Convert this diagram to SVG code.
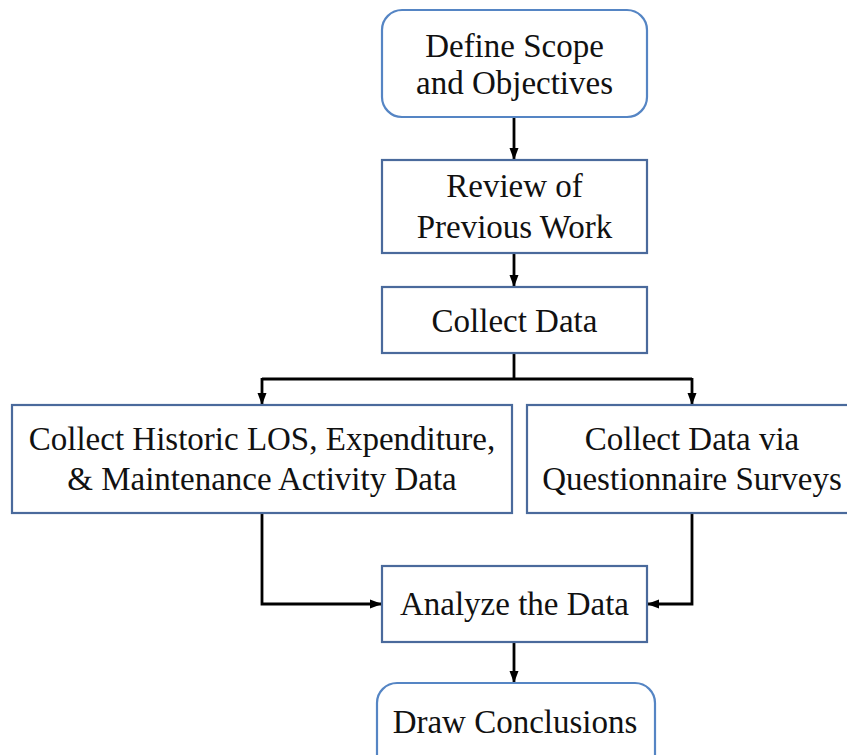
<svg xmlns="http://www.w3.org/2000/svg" width="847" height="755" viewBox="0 0 847 755">
<style>
.box{fill:#fff;stroke:#4a6a9c;stroke-width:2.2}
.rbox{fill:#fff;stroke:#5585c4;stroke-width:2.2}
.t{font-family:"Liberation Serif","Times New Roman",serif;font-size:33px;fill:#111;text-anchor:middle}
.c{fill:none;stroke:#000;stroke-width:2.8}
</style>
<defs>
<marker id="ah" markerUnits="userSpaceOnUse" markerWidth="12" markerHeight="12" viewBox="0 0 12 12" refX="12" refY="6" orient="auto">
<path d="M0,1.5 L12,6 L0,10.5 Z" fill="#000"/>
</marker>
</defs>
<rect width="847" height="755" fill="#fff"/>
<g id="connectors">
<line class="c" x1="514" y1="117" x2="514" y2="160" marker-end="url(#ah)"/>
<line class="c" x1="514" y1="253" x2="514" y2="287" marker-end="url(#ah)"/>
<path class="c" d="M514,353 V379"/>
<path class="c" d="M262,379 H692"/>
<line class="c" x1="262" y1="378" x2="262" y2="405" marker-end="url(#ah)"/>
<line class="c" x1="692" y1="378" x2="692" y2="405" marker-end="url(#ah)"/>
<path class="c" d="M262,513 V604 H382" marker-end="url(#ah)"/>
<path class="c" d="M692,513 V604 H647" marker-end="url(#ah)"/>
<line class="c" x1="514" y1="642" x2="514" y2="683" marker-end="url(#ah)"/>
</g>
<g id="define">
<rect class="rbox" x="382" y="10" width="265" height="107" rx="20"/>
<text class="t" x="514.5" y="57">Define Scope</text>
<text class="t" x="514.5" y="94">and Objectives</text>
</g>
<g id="review">
<rect class="box" x="382" y="160" width="265" height="93"/>
<text class="t" x="514.5" y="197">Review of</text>
<text class="t" x="514.5" y="238">Previous Work</text>
</g>
<g id="collect">
<rect class="box" x="382" y="287" width="265" height="66"/>
<text class="t" x="514.5" y="332">Collect Data</text>
</g>
<g id="historic">
<rect class="box" x="12" y="405" width="500" height="108"/>
<text class="t" x="262" y="450">Collect Historic LOS, Expenditure,</text>
<text class="t" x="262" y="490">&amp; Maintenance Activity Data</text>
</g>
<g id="survey">
<rect class="box" x="527" y="405" width="330" height="108"/>
<text class="t" x="692" y="450">Collect Data via</text>
<text class="t" x="692" y="490">Questionnaire Surveys</text>
</g>
<g id="analyze">
<rect class="box" x="382" y="566" width="265" height="76"/>
<text class="t" x="514.5" y="615">Analyze the Data</text>
</g>
<g id="conclusions">
<rect class="rbox" x="377" y="683" width="278" height="100" rx="20"/>
<text class="t" x="515" y="733">Draw Conclusions</text>
</g>
</svg>
